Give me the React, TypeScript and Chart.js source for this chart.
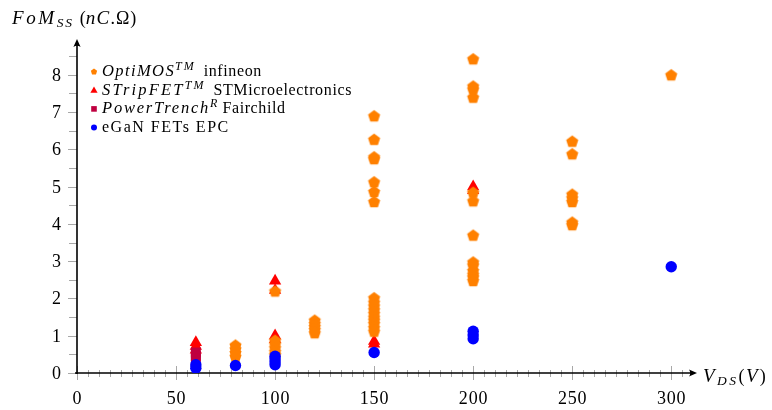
import React, { useEffect, useRef } from 'react';
import { Chart, registerables } from 'chart.js';

Chart.register(...registerables);

// ---- data ----
const xTicks = [0, 50, 100, 150, 200, 250, 300];
const yTicks = [0, 1, 2, 3, 4, 5, 6, 7, 8];

const optiV = [80, 80, 80, 80, 100, 100, 100, 100, 100, 100, 120, 120, 120, 120, 120,
  150, 150, 150, 150, 150, 150, 150, 150, 150, 150, 150, 150, 150, 150, 150, 150, 150,
  200, 200, 200, 200, 200, 200, 200, 200, 200, 200, 200, 200, 200,
  250, 250, 250, 250, 250, 250, 250, 300];
const optiF = [0.75, 0.65, 0.55, 0.45, 0.88, 0.78, 0.68, 0.58, 0.5, 2.2, 1.42, 1.33, 1.25, 1.17, 1.08,
  6.9, 6.27, 5.8, 5.75, 5.13, 4.87, 4.6, 2.02, 1.9, 1.8, 1.7, 1.6, 1.5, 1.42, 1.33, 1.22, 1.12,
  8.43, 7.7, 7.62, 7.4, 4.85, 4.62, 3.7, 2.98, 2.9, 2.75, 2.65, 2.58, 2.48,
  6.22, 5.88, 4.8, 4.7, 4.6, 4.05, 3.98, 8.0];

const stripV = [60, 60, 60, 100, 100, 100, 100, 150, 150, 200, 200];
const stripF = [0.82, 0.72, 0.62, 2.47, 2.22, 1.0, 0.9, 0.85, 0.78, 5.0, 4.9];

const powerV = [60, 60, 60];
const powerF = [0.55, 0.45, 0.38];

const eganV = [60, 60, 80, 100, 100, 100, 100, 150, 200, 200, 200, 300];
const eganF = [0.22, 0.13, 0.2, 0.45, 0.38, 0.3, 0.22, 0.55, 1.12, 1.02, 0.92, 2.85];

const ORANGE = '#ff8000';
const RED = '#ff0000';
const PURPLE = '#bf0040';
const BLUE = '#0000ff';

const SERIF = '"Liberation Serif", "DejaVu Serif", serif';

type Run = { t: string; it?: boolean; size?: number; dy?: number; ls?: number; gap?: number };

function drawRuns(ctx: CanvasRenderingContext2D, x: number, y: number, runs: Run[], align: 'left' | 'right' = 'left') {
  const setFont = (r: Run) => {
    ctx.font = `${r.it ? 'italic ' : ''}${r.size || 16}px ${SERIF}`;
    (ctx as any).letterSpacing = `${r.ls || 0}px`;
  };
  let w = 0;
  for (const r of runs) {
    setFont(r);
    w += (r.gap || 0) + ctx.measureText(r.t).width;
  }
  let cx = align === 'right' ? x - w : x;
  ctx.textBaseline = 'alphabetic';
  ctx.textAlign = 'left';
  for (const r of runs) {
    setFont(r);
    cx += r.gap || 0;
    ctx.fillText(r.t, cx, y + (r.dy || 0));
    cx += ctx.measureText(r.t).width;
  }
  (ctx as any).letterSpacing = '0px';
}

function makePentagon(color: string, r: number) {
  const size = Math.ceil(r * 2) + 2;
  const c = document.createElement('canvas');
  c.width = size;
  c.height = size;
  const g = c.getContext('2d')!;
  g.fillStyle = color;
  g.beginPath();
  for (let i = 0; i < 5; i++) {
    const a = -Math.PI / 2 + (i * 2 * Math.PI) / 5;
    const px = size / 2 + r * Math.cos(a);
    const py = size / 2 + r * Math.sin(a) + r * 0.1;
    if (i === 0) g.moveTo(px, py);
    else g.lineTo(px, py);
  }
  g.closePath();
  g.fill();
  return c;
}

function arrow(ctx: CanvasRenderingContext2D, tx: number, ty: number, dx: number, dy: number) {
  const L = 8, W = 3.6;
  const nx = -dy, ny = dx;
  const bx = tx - dx * L, by = ty - dy * L;
  ctx.beginPath();
  ctx.moveTo(tx, ty);
  ctx.lineTo(bx + nx * W, by + ny * W);
  ctx.quadraticCurveTo(tx - dx * L * 0.7, ty - dy * L * 0.7, bx - nx * W, by - ny * W);
  ctx.closePath();
  ctx.fill();
}

const axesPlugin = {
  id: 'axesPlugin',
  beforeDatasetsDraw(chart: any) {
    const { ctx, scales } = chart;
    const x = scales.x, y = scales.y;
    const x0 = x.getPixelForValue(0);
    const y0 = y.getPixelForValue(0);
    const line = (a: number, b: number, c: number, d: number) => {
      ctx.beginPath();
      ctx.moveTo(a, b);
      ctx.lineTo(c, d);
      ctx.stroke();
    };
    ctx.save();
    ctx.strokeStyle = '#a8a8a8';
    ctx.lineWidth = 1;
    for (let k = 1; (k * 50) / 9 < x.max - 2; k++) {
      if (k % 9 === 0) continue;
      const px = Math.round(x.getPixelForValue((k * 50) / 9)) + 0.5;
      line(px, y0 - 3, px, y0 + 4);
    }
    for (const v of xTicks) {
      const px = Math.round(x.getPixelForValue(v)) + 0.5;
      line(px, y0 - 7, px, y0 + 7);
    }
    for (let v = 0.5; v < y.max; v += 1) {
      const py = Math.round(y.getPixelForValue(v)) + 0.5;
      line(x0 - 8, py, x0, py);
    }
    for (const v of yTicks) {
      const py = Math.round(y.getPixelForValue(v)) + 0.5;
      line(x0 - 9, py, x0, py);
    }
    ctx.strokeStyle = '#000';
    ctx.fillStyle = '#000';
    ctx.lineWidth = 1.6;
    line(x0 - 2, y0, x.right - 5, y0);
    line(x0, y0 + 1, x0, y.top + 5);
    arrow(ctx, x.right, y0, 1, 0);
    arrow(ctx, x0, y.top, 0, -1);

    ctx.fillStyle = '#000';
    for (const v of xTicks) {
      const px = x.getPixelForValue(v);
      ctx.font = `18px ${SERIF}`;
      (ctx as any).letterSpacing = '0.8px';
      const w = ctx.measureText(String(v)).width - 0.8;
      ctx.textAlign = 'left';
      ctx.textBaseline = 'alphabetic';
      ctx.fillText(String(v), px - w / 2, y0 + 31);
    }
    for (const v of yTicks) {
      const py = y.getPixelForValue(v);
      drawRuns(ctx, x0 - 16, py + 6, [{ t: String(v), size: 18 }], 'right');
    }
    (ctx as any).letterSpacing = '0px';

    drawRuns(ctx, 12, 24, [
      { t: 'FoM', it: true, size: 19, ls: 2.6 },
      { t: 'SS', it: true, size: 13.5, dy: 3, ls: 1.8 },
      { t: '(', size: 18, gap: 6 },
      { t: 'nC', it: true, size: 19, ls: 1.2 },
      { t: '.Ω)', size: 18, ls: 1 },
    ]);
    drawRuns(ctx, x.right + 6, y0 + 9, [
      { t: 'V', it: true, size: 19, ls: 2.5 },
      { t: 'DS', it: true, size: 13.5, dy: 3, ls: 2.5 },
      { t: '(', size: 18, ls: 1.5 },
      { t: 'V', it: true, size: 19, ls: 2 },
      { t: ')', size: 18 },
    ]);
    ctx.restore();
  },
};

const legendPlugin = {
  id: 'legendPlugin',
  afterDatasetsDraw(chart: any) {
    const { ctx } = chart;
    const mx = 94;
    const rows = [71.5, 90.2, 108.9, 127.6];
    ctx.save();
    ctx.fillStyle = ORANGE;
    ctx.beginPath();
    for (let i = 0; i < 5; i++) {
      const a = -Math.PI / 2 + (i * 2 * Math.PI) / 5;
      const px = mx + 3.3 * Math.cos(a), py = rows[0] + 3.3 * Math.sin(a) + 0.3;
      if (i === 0) ctx.moveTo(px, py); else ctx.lineTo(px, py);
    }
    ctx.closePath();
    ctx.fill();
    ctx.fillStyle = RED;
    ctx.beginPath();
    ctx.moveTo(mx, rows[1] - 3.8);
    ctx.lineTo(mx + 3.6, rows[1] + 2.6);
    ctx.lineTo(mx - 3.6, rows[1] + 2.6);
    ctx.closePath();
    ctx.fill();
    ctx.fillStyle = PURPLE;
    ctx.fillRect(mx - 2.8, rows[2] - 2.8, 5.6, 5.6);
    ctx.fillStyle = BLUE;
    ctx.beginPath();
    ctx.arc(mx, rows[3], 3, 0, Math.PI * 2);
    ctx.fill();

    ctx.fillStyle = '#000';
    const tx = 102;
    drawRuns(ctx, tx, rows[0] + 4.5, [
      { t: 'OptiMOS', it: true, size: 16.5, ls: 1.4 },
      { t: 'TM', it: true, size: 12, dy: -6, ls: 2 },
      { t: 'infineon', size: 16, ls: 0.6, gap: 8 },
    ]);
    drawRuns(ctx, tx, rows[1] + 4.5, [
      { t: 'STripFET', it: true, size: 16.5, ls: 2.2 },
      { t: 'TM', it: true, size: 12, dy: -6, ls: 2 },
      { t: 'STMicroelectronics', size: 16, ls: 0.65, gap: 8 },
    ]);
    drawRuns(ctx, tx, rows[2] + 4.5, [
      { t: 'PowerTrench', it: true, size: 16.5, ls: 1.8 },
      { t: 'R', it: true, size: 12, dy: -6, ls: 1 },
      { t: 'Fairchild', size: 16, ls: 0.6, gap: 4 },
    ]);
    drawRuns(ctx, tx, rows[3] + 4.5, [{ t: 'eGaN FETs EPC', size: 16, ls: 1.5 }]);
    ctx.restore();
  },
};

const toPts = (xs: number[], ys: number[]) => xs.map((v, i) => ({ x: v, y: ys[i] }));

export default function App() {
  const ref = useRef<HTMLCanvasElement | null>(null);
  useEffect(() => {
    if (!ref.current) return;
    const pent = makePentagon(ORANGE, 6.4);
    const chart = new Chart(ref.current, {
      type: 'scatter',
      data: {
        datasets: [
          {
            label: 'eGaN FETs EPC',
            data: toPts(eganV, eganF),
            pointStyle: 'circle',
            pointRadius: 5.7,
            backgroundColor: BLUE,
            borderWidth: 0,
            order: 0,
          },
          {
            label: 'PowerTrench Fairchild',
            data: toPts(powerV, powerF),
            pointStyle: 'rect',
            pointRadius: 7,
            backgroundColor: PURPLE,
            borderWidth: 0,
            order: 1,
          },
          {
            label: 'OptiMOS infineon',
            data: toPts(optiV, optiF),
            pointStyle: pent as any,
            pointRadius: 6.4,
            backgroundColor: ORANGE,
            borderWidth: 0,
            order: 2,
          },
          {
            label: 'STripFET STMicroelectronics',
            data: toPts(stripV, stripF),
            pointStyle: 'triangle',
            pointRadius: 7.1,
            backgroundColor: RED,
            borderWidth: 0,
            order: 3,
          },
        ],
      },
      options: {
        animation: false,
        responsive: false,
        maintainAspectRatio: false,
        events: [],
        layout: { padding: { left: 77, right: 75, top: 39, bottom: 37 } },
        plugins: { legend: { display: false }, tooltip: { enabled: false } },
        scales: {
          x: { type: 'linear', min: 0, max: 313, display: false },
          y: { type: 'linear', min: 0, max: 8.96, display: false },
        },
      },
      plugins: [axesPlugin, legendPlugin],
    });
    return () => chart.destroy();
  }, []);
  return (
    <div style={{ position: 'fixed', left: 0, top: 0, width: 772, height: 410, background: '#fff' }}>
      <canvas ref={ref} width={772} height={410} style={{ width: 772, height: 410 }} />
    </div>
  );
}
